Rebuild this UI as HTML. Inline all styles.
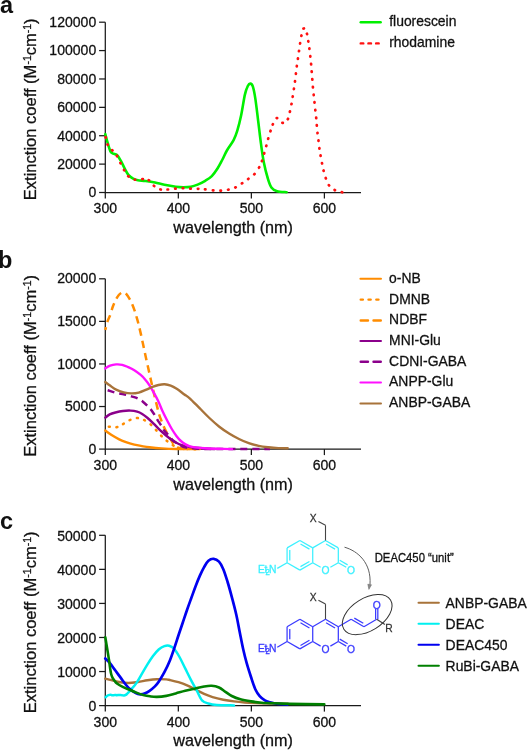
<!DOCTYPE html>
<html><head><meta charset="utf-8"><style>
html,body{margin:0;padding:0;background:#fff;}
svg{display:block;will-change:transform;}
</style></head><body>
<svg width="528" height="750" viewBox="0 0 528 750">
<rect width="528" height="750" fill="#fff"/>
<text transform="translate(0.1,12.5)" font-size="23.5" font-weight="bold" font-family="Liberation Sans, sans-serif" fill="#111">a</text>
<text transform="translate(-2.1,268.2)" font-size="23.5" font-weight="bold" font-family="Liberation Sans, sans-serif" fill="#111">b</text>
<text transform="translate(0.0,528.9)" font-size="23.5" font-weight="bold" font-family="Liberation Sans, sans-serif" fill="#111">c</text>
<path d="M105.3,22.20 V192.5 H361.0" fill="none" stroke="#1a1a1a" stroke-width="1.25"/>
<path d="M99.10,192.50 H105.3" stroke="#1a1a1a" stroke-width="1.25"/>
<text transform="translate(96.20,197.30) scale(1,1.05)" text-anchor="end" font-size="14.05" font-family="Liberation Sans, sans-serif" fill="#111" stroke="#111" stroke-width="0.28">0</text>
<path d="M99.10,164.12 H105.3" stroke="#1a1a1a" stroke-width="1.25"/>
<text transform="translate(96.20,168.92) scale(1,1.05)" text-anchor="end" font-size="14.05" font-family="Liberation Sans, sans-serif" fill="#111" stroke="#111" stroke-width="0.28">20000</text>
<path d="M99.10,135.73 H105.3" stroke="#1a1a1a" stroke-width="1.25"/>
<text transform="translate(96.20,140.53) scale(1,1.05)" text-anchor="end" font-size="14.05" font-family="Liberation Sans, sans-serif" fill="#111" stroke="#111" stroke-width="0.28">40000</text>
<path d="M99.10,107.35 H105.3" stroke="#1a1a1a" stroke-width="1.25"/>
<text transform="translate(96.20,112.15) scale(1,1.05)" text-anchor="end" font-size="14.05" font-family="Liberation Sans, sans-serif" fill="#111" stroke="#111" stroke-width="0.28">60000</text>
<path d="M99.10,78.97 H105.3" stroke="#1a1a1a" stroke-width="1.25"/>
<text transform="translate(96.20,83.77) scale(1,1.05)" text-anchor="end" font-size="14.05" font-family="Liberation Sans, sans-serif" fill="#111" stroke="#111" stroke-width="0.28">80000</text>
<path d="M99.10,50.58 H105.3" stroke="#1a1a1a" stroke-width="1.25"/>
<text transform="translate(96.20,55.38) scale(1,1.05)" text-anchor="end" font-size="14.05" font-family="Liberation Sans, sans-serif" fill="#111" stroke="#111" stroke-width="0.28">100000</text>
<path d="M99.10,22.20 H105.3" stroke="#1a1a1a" stroke-width="1.25"/>
<text transform="translate(96.20,27.00) scale(1,1.05)" text-anchor="end" font-size="14.05" font-family="Liberation Sans, sans-serif" fill="#111" stroke="#111" stroke-width="0.28">120000</text>
<path d="M105.30,192.5 V198.50" stroke="#1a1a1a" stroke-width="1.25"/>
<text transform="translate(105.30,213.40) scale(1,1.05)" text-anchor="middle" font-size="14.05" font-family="Liberation Sans, sans-serif" fill="#111" stroke="#111" stroke-width="0.28">300</text>
<path d="M178.33,192.5 V198.50" stroke="#1a1a1a" stroke-width="1.25"/>
<text transform="translate(178.33,213.40) scale(1,1.05)" text-anchor="middle" font-size="14.05" font-family="Liberation Sans, sans-serif" fill="#111" stroke="#111" stroke-width="0.28">400</text>
<path d="M251.36,192.5 V198.50" stroke="#1a1a1a" stroke-width="1.25"/>
<text transform="translate(251.36,213.40) scale(1,1.05)" text-anchor="middle" font-size="14.05" font-family="Liberation Sans, sans-serif" fill="#111" stroke="#111" stroke-width="0.28">500</text>
<path d="M324.39,192.5 V198.50" stroke="#1a1a1a" stroke-width="1.25"/>
<text transform="translate(324.39,213.40) scale(1,1.05)" text-anchor="middle" font-size="14.05" font-family="Liberation Sans, sans-serif" fill="#111" stroke="#111" stroke-width="0.28">600</text>
<text transform="translate(233.1,233.20) scale(1,1.05)" text-anchor="middle" font-size="16.2" font-family="Liberation Sans, sans-serif" fill="#111" stroke="#111" stroke-width="0.28">wavelength (nm)</text>
<text transform="translate(35.9,200.20) scale(1,1.02) rotate(-90)" font-size="16.2" font-family="Liberation Sans, sans-serif" fill="#111" stroke="#111" stroke-width="0.28">Extinction coeff (M<tspan font-size="10.3" dy="-5.0">-1</tspan><tspan dy="5.0">cm</tspan><tspan font-size="10.3" dy="-5.0">-1</tspan><tspan dy="5.0">)</tspan></text>
<path d="M105.30,134.20 C105.68,135.62 106.75,139.85 107.60,142.70 C108.45,145.55 109.45,149.47 110.40,151.30 C111.35,153.13 112.20,153.08 113.30,153.70 C114.40,154.32 115.75,153.83 117.00,155.00 C118.25,156.17 119.53,158.48 120.80,160.70 C122.07,162.92 123.33,165.93 124.60,168.30 C125.87,170.67 126.98,173.17 128.40,174.90 C129.82,176.63 131.52,177.82 133.10,178.70 C134.68,179.58 135.83,179.82 137.90,180.20 C139.97,180.58 142.65,180.62 145.50,181.00 C148.35,181.38 151.85,181.87 155.00,182.50 C158.15,183.13 160.93,184.10 164.40,184.80 C167.87,185.50 172.65,186.30 175.80,186.70 C178.95,187.10 180.78,187.20 183.30,187.20 C185.82,187.20 188.52,187.13 190.90,186.70 C193.28,186.27 195.22,185.58 197.60,184.60 C199.98,183.62 202.83,182.22 205.20,180.80 C207.57,179.38 209.75,178.15 211.80,176.10 C213.85,174.05 215.77,171.18 217.50,168.50 C219.23,165.82 220.63,163.00 222.20,160.00 C223.77,157.00 225.00,153.82 226.90,150.50 C228.80,147.18 231.87,143.42 233.60,140.10 C235.33,136.78 236.05,134.70 237.30,130.60 C238.55,126.50 239.83,121.50 241.10,115.50 C242.37,109.50 243.78,99.52 244.90,94.60 C246.02,89.68 246.90,87.83 247.80,86.00 C248.70,84.17 249.45,83.50 250.30,83.60 C251.15,83.70 252.07,84.13 252.90,86.60 C253.73,89.07 254.42,92.65 255.30,98.40 C256.18,104.15 257.25,113.52 258.20,121.10 C259.15,128.68 260.05,136.95 261.00,143.90 C261.95,150.85 262.78,157.12 263.90,162.80 C265.02,168.48 266.45,173.90 267.70,178.00 C268.95,182.10 269.83,185.20 271.40,187.40 C272.97,189.60 274.57,190.40 277.10,191.20 C279.63,192.00 285.02,192.03 286.60,192.20" fill="none" stroke="#00f000" stroke-width="2.6" stroke-linecap="round" stroke-linejoin="round"/>
<path d="M105.64,137.16 L105.76,137.64 M107.49,144.38 L107.71,144.82 M112.14,150.11 L112.46,150.49 M116.87,155.79 L117.13,156.21 M120.39,162.98 L120.61,163.42 M124.07,169.99 L124.33,170.41 M128.21,176.23 L128.59,176.57 M134.75,179.65 L135.25,179.75 M142.35,179.09 L142.85,179.11 M148.69,180.07 L149.11,180.33 M153.80,185.74 L154.20,186.06 M160.36,189.44 L160.84,189.56 M167.55,189.52 L168.05,189.48 M175.15,188.62 L175.65,188.58 M182.75,188.20 L183.25,188.20 M190.25,188.59 L190.75,188.61 M197.85,188.79 L198.35,188.81 M204.95,189.28 L205.45,189.32 M212.85,190.28 L213.35,190.32 M220.45,190.61 L220.95,190.59 M228.06,189.75 L228.54,189.65 M235.27,187.51 L235.73,187.29 M241.89,183.44 L242.31,183.16 M248.10,179.05 L248.50,178.75 M254.23,174.38 L254.57,174.02 M258.98,167.72 L259.22,167.28 M261.92,161.14 L262.08,160.66 M264.13,153.54 L264.27,153.06 M266.23,146.04 L266.37,145.56 M268.13,138.84 L268.27,138.36 M270.42,131.24 L270.58,130.76 M272.69,124.62 L272.91,124.18 M276.65,118.14 L277.15,118.06 M282.35,122.78 L282.85,122.82 M287.76,119.21 L288.04,118.79 M289.84,111.84 L289.96,111.36 M291.45,104.25 L291.55,103.75 M292.66,96.85 L292.74,96.35 M293.86,89.15 L293.94,88.65 M294.97,81.65 L295.03,81.15 M295.87,73.95 L295.93,73.45 M296.77,66.45 L296.83,65.95 M297.86,58.95 L297.94,58.45 M298.96,51.25 L299.04,50.75 M300.06,43.65 L300.14,43.15 M301.34,35.94 L301.46,35.46 M303.46,28.58 L303.94,28.42 M306.92,33.66 L307.08,34.14 M308.26,41.15 L308.34,41.65 M309.37,48.45 L309.43,48.95 M310.27,56.15 L310.33,56.65 M311.08,63.85 L311.12,64.35 M311.68,71.45 L311.72,71.95 M312.28,79.15 L312.32,79.65 M312.88,86.85 L312.92,87.35 M313.67,94.55 L313.73,95.05 M314.47,102.15 L314.53,102.65 M315.27,109.85 L315.33,110.35 M316.18,117.55 L316.22,118.05 M316.78,125.15 L316.82,125.65 M317.47,132.75 L317.53,133.25 M318.47,140.45 L318.53,140.95 M319.37,148.15 L319.43,148.65 M320.56,155.45 L320.64,155.95 M321.95,163.05 L322.05,163.55 M323.54,170.46 L323.66,170.94 M325.71,177.97 L325.89,178.43 M328.85,185.10 L329.15,185.50 M334.58,189.98 L335.02,190.22 M341.76,192.13 L342.24,192.27" fill="none" stroke="#ff1010" stroke-width="2.7" stroke-linecap="round"/>
<path d="M360.75,22.30 H380.65" stroke="#00f000" stroke-width="2.5" stroke-linecap="round"/>
<text transform="translate(389.2,26.40) scale(1,1.05)" font-size="13.9" font-family="Liberation Sans, sans-serif" fill="#111" stroke="#111" stroke-width="0.28">fluorescein</text>
<path d="M360.70,43.40 H378.70" stroke="#ff1010" stroke-width="2.4" stroke-linecap="round" stroke-dasharray="2.60 5.10"/>
<text transform="translate(389.2,46.70) scale(1,1.05)" font-size="13.9" font-family="Liberation Sans, sans-serif" fill="#111" stroke="#111" stroke-width="0.28">rhodamine</text>
<path d="M105.3,278.80 V449.1 H361.0" fill="none" stroke="#1a1a1a" stroke-width="1.25"/>
<path d="M99.10,449.10 H105.3" stroke="#1a1a1a" stroke-width="1.25"/>
<text transform="translate(96.20,453.70) scale(1,1.05)" text-anchor="end" font-size="14.05" font-family="Liberation Sans, sans-serif" fill="#111" stroke="#111" stroke-width="0.28">0</text>
<path d="M99.10,406.53 H105.3" stroke="#1a1a1a" stroke-width="1.25"/>
<text transform="translate(96.20,411.13) scale(1,1.05)" text-anchor="end" font-size="14.05" font-family="Liberation Sans, sans-serif" fill="#111" stroke="#111" stroke-width="0.28">5000</text>
<path d="M99.10,363.95 H105.3" stroke="#1a1a1a" stroke-width="1.25"/>
<text transform="translate(96.20,368.55) scale(1,1.05)" text-anchor="end" font-size="14.05" font-family="Liberation Sans, sans-serif" fill="#111" stroke="#111" stroke-width="0.28">10000</text>
<path d="M99.10,321.38 H105.3" stroke="#1a1a1a" stroke-width="1.25"/>
<text transform="translate(96.20,325.98) scale(1,1.05)" text-anchor="end" font-size="14.05" font-family="Liberation Sans, sans-serif" fill="#111" stroke="#111" stroke-width="0.28">15000</text>
<path d="M99.10,278.80 H105.3" stroke="#1a1a1a" stroke-width="1.25"/>
<text transform="translate(96.20,283.40) scale(1,1.05)" text-anchor="end" font-size="14.05" font-family="Liberation Sans, sans-serif" fill="#111" stroke="#111" stroke-width="0.28">20000</text>
<path d="M105.30,449.1 V455.10" stroke="#1a1a1a" stroke-width="1.25"/>
<text transform="translate(105.30,470.00) scale(1,1.05)" text-anchor="middle" font-size="14.05" font-family="Liberation Sans, sans-serif" fill="#111" stroke="#111" stroke-width="0.28">300</text>
<path d="M178.33,449.1 V455.10" stroke="#1a1a1a" stroke-width="1.25"/>
<text transform="translate(178.33,470.00) scale(1,1.05)" text-anchor="middle" font-size="14.05" font-family="Liberation Sans, sans-serif" fill="#111" stroke="#111" stroke-width="0.28">400</text>
<path d="M251.36,449.1 V455.10" stroke="#1a1a1a" stroke-width="1.25"/>
<text transform="translate(251.36,470.00) scale(1,1.05)" text-anchor="middle" font-size="14.05" font-family="Liberation Sans, sans-serif" fill="#111" stroke="#111" stroke-width="0.28">500</text>
<path d="M324.39,449.1 V455.10" stroke="#1a1a1a" stroke-width="1.25"/>
<text transform="translate(324.39,470.00) scale(1,1.05)" text-anchor="middle" font-size="14.05" font-family="Liberation Sans, sans-serif" fill="#111" stroke="#111" stroke-width="0.28">600</text>
<text transform="translate(233.1,489.80) scale(1,1.05)" text-anchor="middle" font-size="16.2" font-family="Liberation Sans, sans-serif" fill="#111" stroke="#111" stroke-width="0.28">wavelength (nm)</text>
<text transform="translate(35.9,456.80) scale(1,1.02) rotate(-90)" font-size="16.2" font-family="Liberation Sans, sans-serif" fill="#111" stroke="#111" stroke-width="0.28">Extinction coeff (M<tspan font-size="10.3" dy="-5.0">-1</tspan><tspan dy="5.0">cm</tspan><tspan font-size="10.3" dy="-5.0">-1</tspan><tspan dy="5.0">)</tspan></text>
<path d="M105.30,430.60 C106.35,431.33 109.28,433.55 111.60,435.00 C113.92,436.45 116.68,438.08 119.20,439.30 C121.72,440.52 124.18,441.42 126.70,442.30 C129.22,443.18 131.77,443.97 134.30,444.60 C136.83,445.23 139.37,445.65 141.90,446.10 C144.43,446.55 146.22,446.92 149.50,447.30 C152.78,447.68 157.07,448.12 161.60,448.40 C166.13,448.68 170.30,448.88 176.70,449.00 C183.10,449.12 196.12,449.08 200.00,449.10" fill="none" stroke="#ff8c00" stroke-width="2.4" stroke-linecap="round" stroke-linejoin="round"/>
<path d="M108.80,426.67 L109.80,426.73 M116.41,427.20 L117.39,427.00 M122.96,424.14 L123.84,423.66 M129.54,420.19 L130.46,419.81 M136.90,418.09 L137.90,418.11 M144.05,419.98 L144.95,420.42 M150.52,424.38 L151.28,425.02 M155.86,429.84 L156.54,430.56 M161.05,435.55 L161.75,436.25 M166.61,440.69 L167.39,441.31 M172.76,445.16 L173.64,445.64 M179.52,447.98 L180.48,448.22 M186.90,448.96 L187.90,449.04 M194.40,449.19 L195.40,449.21" fill="none" stroke="#ff8c00" stroke-width="2.5" stroke-linecap="round"/>
<path d="M105.30,330.00 C105.68,328.53 106.75,323.78 107.60,321.20 C108.45,318.62 109.58,316.78 110.40,314.50 C111.22,312.22 111.83,309.45 112.50,307.50 C113.17,305.55 113.75,304.28 114.40,302.80 C115.05,301.32 115.67,299.90 116.40,298.60 C117.13,297.30 118.00,295.93 118.80,295.00 C119.60,294.07 120.43,293.43 121.20,293.00 C121.97,292.57 122.60,292.30 123.40,292.40 C124.20,292.50 124.90,292.40 126.00,293.60 C127.10,294.80 128.93,297.73 130.00,299.60 C131.07,301.47 131.60,302.87 132.40,304.80 C133.20,306.73 134.08,309.08 134.80,311.20 C135.52,313.32 136.10,315.43 136.70,317.50 C137.30,319.57 137.87,321.53 138.40,323.60 C138.93,325.67 139.40,327.77 139.90,329.90 C140.40,332.03 140.92,334.22 141.40,336.40 C141.88,338.58 142.30,340.65 142.80,343.00 C143.30,345.35 143.85,347.92 144.40,350.50 C144.95,353.08 145.50,355.75 146.10,358.50 C146.70,361.25 147.35,364.08 148.00,367.00 C148.65,369.92 149.33,373.00 150.00,376.00 C150.67,379.00 151.30,381.92 152.00,385.00 C152.70,388.08 153.43,391.25 154.20,394.50 C154.97,397.75 155.75,401.08 156.60,404.50 C157.45,407.92 158.37,411.98 159.30,415.00 C160.23,418.02 161.35,420.43 162.20,422.60 C163.05,424.77 163.55,426.17 164.40,428.00 C165.25,429.83 166.25,431.72 167.30,433.60 C168.35,435.48 169.57,437.47 170.70,439.30 C171.83,441.13 172.55,443.08 174.10,444.60 C175.65,446.12 177.35,447.65 180.00,448.40 C182.65,449.15 188.33,448.98 190.00,449.10" fill="none" stroke="#ff8c00" stroke-width="2.5" stroke-linecap="butt" stroke-linejoin="round" stroke-dasharray="7.5 5.1" stroke-dashoffset="4.5"/>
<path d="M105.30,417.60 C106.03,417.07 108.02,415.25 109.70,414.40 C111.38,413.55 113.20,413.07 115.40,412.50 C117.60,411.93 120.38,411.32 122.90,411.00 C125.42,410.68 128.13,410.50 130.50,410.60 C132.87,410.70 135.15,411.05 137.10,411.60 C139.05,412.15 140.45,412.83 142.20,413.90 C143.95,414.97 145.70,416.38 147.60,418.00 C149.50,419.62 151.83,421.88 153.60,423.60 C155.37,425.32 156.68,426.82 158.20,428.30 C159.72,429.78 161.18,431.13 162.70,432.50 C164.22,433.87 165.78,435.27 167.30,436.50 C168.82,437.73 170.28,438.87 171.80,439.90 C173.32,440.93 174.88,441.88 176.40,442.70 C177.92,443.52 179.38,444.23 180.90,444.80 C182.42,445.37 183.98,445.73 185.50,446.10 C187.02,446.47 188.25,446.72 190.00,447.00 C191.75,447.28 193.50,447.55 196.00,447.80 C198.50,448.05 201.83,448.30 205.00,448.50 C208.17,448.70 213.33,448.92 215.00,449.00" fill="none" stroke="#8b008b" stroke-width="2.4" stroke-linecap="round" stroke-linejoin="round"/>
<path d="M105.30,389.50 C105.72,389.62 106.43,389.77 107.80,390.20 C109.17,390.63 111.53,391.55 113.50,392.10 C115.47,392.65 117.47,393.03 119.60,393.50 C121.73,393.97 124.32,394.42 126.30,394.90 C128.28,395.38 129.62,395.83 131.50,396.40 C133.38,396.97 135.75,397.47 137.60,398.30 C139.45,399.13 140.87,400.05 142.60,401.40 C144.33,402.75 146.50,404.88 148.00,406.40 C149.50,407.92 150.38,408.90 151.60,410.50 C152.82,412.10 154.20,414.23 155.30,416.00 C156.40,417.77 156.97,419.20 158.20,421.10 C159.43,423.00 161.67,425.78 162.70,427.40 C163.73,429.02 163.60,429.67 164.40,430.80 C165.20,431.93 166.55,433.17 167.50,434.20 C168.45,435.23 169.18,435.95 170.10,437.00 C171.02,438.05 171.93,439.50 173.00,440.50 C174.07,441.50 175.37,442.25 176.50,443.00 C177.63,443.75 178.38,444.28 179.80,445.00 C181.22,445.72 182.47,446.72 185.00,447.30 C187.53,447.88 190.83,448.22 195.00,448.50 C199.17,448.78 202.50,448.90 210.00,449.00 C217.50,449.10 230.00,449.08 240.00,449.10 C250.00,449.12 265.00,449.10 270.00,449.10" fill="none" stroke="#8b008b" stroke-width="2.5" stroke-linecap="butt" stroke-linejoin="round" stroke-dasharray="7 5" stroke-dashoffset="9.5"/>
<path d="M105.30,368.40 C106.10,367.93 108.30,366.27 110.10,365.60 C111.90,364.93 114.08,364.53 116.10,364.40 C118.12,364.27 120.18,364.35 122.20,364.80 C124.22,365.25 126.18,366.20 128.20,367.10 C130.22,368.00 132.27,368.93 134.30,370.20 C136.33,371.47 138.63,373.20 140.40,374.70 C142.17,376.20 143.38,377.43 144.90,379.20 C146.42,380.97 147.95,382.93 149.50,385.30 C151.05,387.67 152.73,390.75 154.20,393.40 C155.67,396.05 156.88,398.18 158.30,401.20 C159.72,404.22 161.20,408.23 162.70,411.50 C164.20,414.77 165.78,417.88 167.30,420.80 C168.82,423.72 170.28,426.48 171.80,429.00 C173.32,431.52 174.88,433.90 176.40,435.90 C177.92,437.90 179.38,439.58 180.90,441.00 C182.42,442.42 183.98,443.50 185.50,444.40 C187.02,445.30 188.42,445.90 190.00,446.40 C191.58,446.90 192.50,447.10 195.00,447.40 C197.50,447.70 200.83,447.97 205.00,448.20 C209.17,448.43 215.50,448.65 220.00,448.80 C224.50,448.95 230.00,449.05 232.00,449.10" fill="none" stroke="#ff10ff" stroke-width="2.4" stroke-linecap="round" stroke-linejoin="round"/>
<path d="M105.30,382.00 C106.10,382.60 108.30,384.33 110.10,385.60 C111.90,386.87 113.83,388.48 116.10,389.60 C118.37,390.72 121.17,391.67 123.70,392.30 C126.23,392.93 128.78,393.35 131.30,393.40 C133.82,393.45 136.28,393.23 138.80,392.60 C141.32,391.97 144.12,390.55 146.40,389.60 C148.68,388.65 150.48,387.67 152.50,386.90 C154.52,386.13 156.48,385.43 158.50,385.00 C160.52,384.57 162.57,384.20 164.60,384.30 C166.63,384.40 168.68,384.85 170.70,385.60 C172.72,386.35 174.48,387.37 176.70,388.80 C178.92,390.23 181.83,392.62 184.00,394.20 C186.17,395.78 187.10,395.97 189.70,398.30 C192.30,400.63 196.32,404.92 199.60,408.20 C202.88,411.48 206.12,414.92 209.40,418.00 C212.68,421.08 216.02,424.12 219.30,426.70 C222.58,429.28 225.82,431.45 229.10,433.50 C232.38,435.55 235.72,437.38 239.00,439.00 C242.28,440.62 245.52,442.05 248.80,443.20 C252.08,444.35 255.42,445.22 258.70,445.90 C261.98,446.58 265.22,446.93 268.50,447.30 C271.78,447.67 275.20,447.93 278.40,448.10 C281.60,448.27 286.15,448.27 287.70,448.30" fill="none" stroke="#a8733a" stroke-width="2.4" stroke-linecap="round" stroke-linejoin="round"/>
<path d="M360.45,278.80 H380.95" stroke="#ff8c00" stroke-width="2.1" stroke-linecap="round"/>
<text transform="translate(389.1,282.70) scale(1,1.05)" font-size="13.9" font-family="Liberation Sans, sans-serif" fill="#111" stroke="#111" stroke-width="0.28">o-NB</text>
<path d="M360.70,299.60 H378.50" stroke="#ff8c00" stroke-width="2.4" stroke-linecap="round" stroke-dasharray="2.20 5.60"/>
<text transform="translate(389.1,303.50) scale(1,1.05)" font-size="13.9" font-family="Liberation Sans, sans-serif" fill="#111" stroke="#111" stroke-width="0.28">DMNB</text>
<path d="M360.70,320.50 H380.80" stroke="#ff8c00" stroke-width="2.4" stroke-linecap="round" stroke-dasharray="7.30 5.50"/>
<text transform="translate(389.1,324.40) scale(1,1.05)" font-size="13.9" font-family="Liberation Sans, sans-serif" fill="#111" stroke="#111" stroke-width="0.28">NDBF</text>
<path d="M360.45,341.00 H380.95" stroke="#8b008b" stroke-width="2.1" stroke-linecap="round"/>
<text transform="translate(389.1,344.90) scale(1,1.05)" font-size="13.9" font-family="Liberation Sans, sans-serif" fill="#111" stroke="#111" stroke-width="0.28">MNI-Glu</text>
<path d="M360.70,361.80 H380.80" stroke="#8b008b" stroke-width="2.4" stroke-linecap="round" stroke-dasharray="7.30 5.50"/>
<text transform="translate(389.1,365.70) scale(1,1.05)" font-size="13.9" font-family="Liberation Sans, sans-serif" fill="#111" stroke="#111" stroke-width="0.28">CDNI-GABA</text>
<path d="M360.45,382.50 H380.95" stroke="#ff10ff" stroke-width="2.1" stroke-linecap="round"/>
<text transform="translate(389.1,386.40) scale(1,1.05)" font-size="13.9" font-family="Liberation Sans, sans-serif" fill="#111" stroke="#111" stroke-width="0.28">ANPP-Glu</text>
<path d="M360.45,403.50 H380.95" stroke="#a8733a" stroke-width="2.1" stroke-linecap="round"/>
<text transform="translate(389.1,407.40) scale(1,1.05)" font-size="13.9" font-family="Liberation Sans, sans-serif" fill="#111" stroke="#111" stroke-width="0.28">ANBP-GABA</text>
<path d="M105.3,535.30 V705.6 H361.0" fill="none" stroke="#1a1a1a" stroke-width="1.25"/>
<path d="M99.10,705.60 H105.3" stroke="#1a1a1a" stroke-width="1.25"/>
<text transform="translate(96.20,710.80) scale(1,1.05)" text-anchor="end" font-size="14.05" font-family="Liberation Sans, sans-serif" fill="#111" stroke="#111" stroke-width="0.28">0</text>
<path d="M99.10,671.54 H105.3" stroke="#1a1a1a" stroke-width="1.25"/>
<text transform="translate(96.20,676.74) scale(1,1.05)" text-anchor="end" font-size="14.05" font-family="Liberation Sans, sans-serif" fill="#111" stroke="#111" stroke-width="0.28">10000</text>
<path d="M99.10,637.48 H105.3" stroke="#1a1a1a" stroke-width="1.25"/>
<text transform="translate(96.20,642.68) scale(1,1.05)" text-anchor="end" font-size="14.05" font-family="Liberation Sans, sans-serif" fill="#111" stroke="#111" stroke-width="0.28">20000</text>
<path d="M99.10,603.42 H105.3" stroke="#1a1a1a" stroke-width="1.25"/>
<text transform="translate(96.20,608.62) scale(1,1.05)" text-anchor="end" font-size="14.05" font-family="Liberation Sans, sans-serif" fill="#111" stroke="#111" stroke-width="0.28">30000</text>
<path d="M99.10,569.36 H105.3" stroke="#1a1a1a" stroke-width="1.25"/>
<text transform="translate(96.20,574.56) scale(1,1.05)" text-anchor="end" font-size="14.05" font-family="Liberation Sans, sans-serif" fill="#111" stroke="#111" stroke-width="0.28">40000</text>
<path d="M99.10,535.30 H105.3" stroke="#1a1a1a" stroke-width="1.25"/>
<text transform="translate(96.20,540.50) scale(1,1.05)" text-anchor="end" font-size="14.05" font-family="Liberation Sans, sans-serif" fill="#111" stroke="#111" stroke-width="0.28">50000</text>
<path d="M105.30,705.6 V711.60" stroke="#1a1a1a" stroke-width="1.25"/>
<text transform="translate(105.30,726.50) scale(1,1.05)" text-anchor="middle" font-size="14.05" font-family="Liberation Sans, sans-serif" fill="#111" stroke="#111" stroke-width="0.28">300</text>
<path d="M178.33,705.6 V711.60" stroke="#1a1a1a" stroke-width="1.25"/>
<text transform="translate(178.33,726.50) scale(1,1.05)" text-anchor="middle" font-size="14.05" font-family="Liberation Sans, sans-serif" fill="#111" stroke="#111" stroke-width="0.28">400</text>
<path d="M251.36,705.6 V711.60" stroke="#1a1a1a" stroke-width="1.25"/>
<text transform="translate(251.36,726.50) scale(1,1.05)" text-anchor="middle" font-size="14.05" font-family="Liberation Sans, sans-serif" fill="#111" stroke="#111" stroke-width="0.28">500</text>
<path d="M324.39,705.6 V711.60" stroke="#1a1a1a" stroke-width="1.25"/>
<text transform="translate(324.39,726.50) scale(1,1.05)" text-anchor="middle" font-size="14.05" font-family="Liberation Sans, sans-serif" fill="#111" stroke="#111" stroke-width="0.28">600</text>
<text transform="translate(233.1,746.30) scale(1,1.05)" text-anchor="middle" font-size="16.2" font-family="Liberation Sans, sans-serif" fill="#111" stroke="#111" stroke-width="0.28">wavelength (nm)</text>
<text transform="translate(35.9,713.30) scale(1,1.02) rotate(-90)" font-size="16.2" font-family="Liberation Sans, sans-serif" fill="#111" stroke="#111" stroke-width="0.28">Extinction coeff (M<tspan font-size="10.3" dy="-5.0">-1</tspan><tspan dy="5.0">cm</tspan><tspan font-size="10.3" dy="-5.0">-1</tspan><tspan dy="5.0">)</tspan></text>
<path d="M105.30,678.60 C106.32,678.87 109.13,679.63 111.40,680.20 C113.67,680.77 116.07,681.53 118.90,682.00 C121.73,682.47 125.23,683.00 128.40,683.00 C131.57,683.00 134.75,682.45 137.90,682.00 C141.05,681.55 144.15,680.77 147.30,680.30 C150.45,679.83 153.63,679.35 156.80,679.20 C159.97,679.05 164.10,679.27 166.30,679.40 C168.50,679.53 167.97,679.53 170.00,680.00 C172.03,680.47 175.65,681.30 178.50,682.20 C181.35,683.10 184.25,684.15 187.10,685.40 C189.95,686.65 192.77,688.28 195.60,689.70 C198.43,691.12 201.27,692.67 204.10,693.90 C206.93,695.13 209.40,696.13 212.60,697.10 C215.80,698.07 219.73,698.98 223.30,699.70 C226.87,700.42 230.45,700.93 234.00,701.40 C237.55,701.87 241.05,702.22 244.60,702.50 C248.15,702.78 251.07,702.93 255.30,703.10 C259.53,703.27 264.58,703.38 270.00,703.50 C275.42,703.62 284.83,703.75 287.80,703.80" fill="none" stroke="#a8733a" stroke-width="2.4" stroke-linecap="round" stroke-linejoin="round"/>
<path d="M105.60,697.20 C105.83,697.00 106.52,696.33 107.00,696.00 C107.48,695.67 107.97,695.42 108.50,695.20 C109.03,694.98 109.65,694.70 110.20,694.70 C110.75,694.70 111.27,695.10 111.80,695.20 C112.33,695.30 112.87,695.35 113.40,695.30 C113.93,695.25 114.43,694.92 115.00,694.90 C115.57,694.88 116.20,695.18 116.80,695.20 C117.40,695.22 118.00,695.05 118.60,695.00 C119.20,694.95 119.80,694.85 120.40,694.90 C121.00,694.95 121.60,695.20 122.20,695.30 C122.80,695.40 123.40,695.57 124.00,695.50 C124.60,695.43 125.25,695.22 125.80,694.90 C126.35,694.58 126.68,694.18 127.30,693.60 C127.92,693.02 128.80,692.18 129.50,691.40 C130.20,690.62 130.42,690.20 131.50,688.90 C132.58,687.60 134.30,686.07 136.00,683.60 C137.70,681.13 139.82,677.27 141.70,674.10 C143.58,670.93 145.42,667.60 147.30,664.60 C149.18,661.60 151.10,658.62 153.00,656.10 C154.90,653.58 156.80,651.17 158.70,649.50 C160.60,647.83 162.67,646.73 164.40,646.10 C166.13,645.47 167.52,645.30 169.10,645.70 C170.68,646.10 172.17,646.62 173.90,648.50 C175.63,650.38 177.62,653.68 179.50,657.00 C181.38,660.32 183.30,664.60 185.20,668.40 C187.10,672.20 189.00,676.17 190.90,679.80 C192.80,683.43 194.75,686.78 196.60,690.20 C198.45,693.62 200.03,698.08 202.00,700.30 C203.97,702.52 205.92,702.72 208.40,703.50 C210.88,704.28 212.63,704.68 216.90,705.00 C221.17,705.32 231.15,705.33 234.00,705.40" fill="none" stroke="#00f0f0" stroke-width="2.5" stroke-linecap="round" stroke-linejoin="round"/>
<path d="M105.30,658.50 C106.00,659.20 107.85,660.73 109.50,662.70 C111.15,664.67 113.32,667.77 115.20,670.30 C117.08,672.83 118.92,675.37 120.80,677.90 C122.68,680.43 124.88,683.55 126.50,685.50 C128.12,687.45 129.23,688.50 130.50,689.60 C131.77,690.70 132.87,691.37 134.10,692.10 C135.33,692.83 136.80,693.62 137.90,694.00 C139.00,694.38 139.60,694.47 140.70,694.40 C141.80,694.33 143.08,694.15 144.50,693.60 C145.92,693.05 147.47,692.30 149.20,691.10 C150.93,689.90 153.32,687.97 154.90,686.40 C156.48,684.83 157.12,684.07 158.70,681.70 C160.28,679.33 162.52,675.78 164.40,672.20 C166.28,668.62 168.35,664.22 170.00,660.20 C171.65,656.18 172.88,652.25 174.30,648.10 C175.72,643.95 177.08,639.57 178.50,635.30 C179.92,631.03 181.37,626.77 182.80,622.50 C184.23,618.23 185.68,613.78 187.10,609.70 C188.52,605.62 189.88,601.92 191.30,598.00 C192.72,594.08 194.17,589.93 195.60,586.20 C197.03,582.47 198.48,578.78 199.90,575.60 C201.32,572.42 202.68,569.58 204.10,567.10 C205.52,564.62 206.80,562.08 208.40,560.70 C210.00,559.32 211.93,558.63 213.70,558.80 C215.47,558.97 217.40,559.97 219.00,561.70 C220.60,563.43 221.87,565.82 223.30,569.20 C224.73,572.58 226.17,577.32 227.60,582.00 C229.03,586.68 230.45,591.85 231.90,597.30 C233.35,602.75 235.00,608.92 236.30,614.70 C237.60,620.48 238.55,626.23 239.70,632.00 C240.85,637.77 242.03,644.10 243.20,649.30 C244.37,654.50 245.40,658.58 246.70,663.20 C248.00,667.82 249.57,672.67 251.00,677.00 C252.43,681.33 253.85,686.02 255.30,689.20 C256.75,692.38 258.10,694.23 259.70,696.10 C261.30,697.97 263.17,699.38 264.90,700.40 C266.63,701.42 267.92,701.63 270.10,702.20 C272.28,702.77 275.13,703.40 278.00,703.80 C280.87,704.20 285.75,704.47 287.30,704.60" fill="none" stroke="#0000f0" stroke-width="2.7" stroke-linecap="round" stroke-linejoin="round"/>
<path d="M105.30,637.20 C105.48,638.33 106.05,641.87 106.40,644.00 C106.75,646.13 107.10,648.17 107.40,650.00 C107.70,651.83 107.93,653.33 108.20,655.00 C108.47,656.67 108.75,658.33 109.00,660.00 C109.25,661.67 109.47,663.33 109.70,665.00 C109.93,666.67 110.13,668.42 110.40,670.00 C110.67,671.58 110.93,673.20 111.30,674.50 C111.67,675.80 112.12,676.83 112.60,677.80 C113.08,678.77 113.47,679.35 114.20,680.30 C114.93,681.25 115.58,682.42 117.00,683.50 C118.42,684.58 120.62,685.75 122.70,686.80 C124.78,687.85 127.22,688.83 129.50,689.80 C131.78,690.77 134.12,691.75 136.40,692.60 C138.68,693.45 140.93,694.28 143.20,694.90 C145.47,695.52 147.73,695.97 150.00,696.30 C152.27,696.63 154.08,696.97 156.80,696.90 C159.52,696.83 163.13,696.48 166.30,695.90 C169.47,695.32 172.65,694.25 175.80,693.40 C178.95,692.55 182.05,691.58 185.20,690.80 C188.35,690.02 191.55,689.42 194.70,688.70 C197.85,687.98 201.28,686.98 204.10,686.50 C206.92,686.02 209.12,685.63 211.60,685.80 C214.08,685.97 216.70,686.50 219.00,687.50 C221.30,688.50 223.27,690.38 225.40,691.80 C227.53,693.22 229.30,694.75 231.80,696.00 C234.30,697.25 237.20,698.40 240.40,699.30 C243.60,700.20 247.45,700.83 251.00,701.40 C254.55,701.97 258.53,702.42 261.70,702.70 C264.87,702.98 265.28,702.90 270.00,703.10 C274.72,703.30 280.95,703.68 290.00,703.90 C299.05,704.12 318.58,704.32 324.30,704.40" fill="none" stroke="#008000" stroke-width="2.6" stroke-linecap="round" stroke-linejoin="round"/>
<path d="M418.55,602.70 H438.85" stroke="#a8733a" stroke-width="2.1" stroke-linecap="round"/>
<text transform="translate(445.6,607.60) scale(1,1.05)" font-size="13.9" font-family="Liberation Sans, sans-serif" fill="#111" stroke="#111" stroke-width="0.28">ANBP-GABA</text>
<path d="M418.55,623.80 H438.85" stroke="#00f0f0" stroke-width="2.1" stroke-linecap="round"/>
<text transform="translate(445.6,628.70) scale(1,1.05)" font-size="13.9" font-family="Liberation Sans, sans-serif" fill="#111" stroke="#111" stroke-width="0.28">DEAC</text>
<path d="M418.55,644.80 H438.85" stroke="#0000f0" stroke-width="2.1" stroke-linecap="round"/>
<text transform="translate(445.6,649.80) scale(1,1.05)" font-size="13.9" font-family="Liberation Sans, sans-serif" fill="#111" stroke="#111" stroke-width="0.28">DEAC450</text>
<path d="M418.55,665.80 H438.85" stroke="#008000" stroke-width="2.1" stroke-linecap="round"/>
<text transform="translate(445.6,670.80) scale(1,1.05)" font-size="13.9" font-family="Liberation Sans, sans-serif" fill="#111" stroke="#111" stroke-width="0.28">RuBi-GABA</text>
<line x1="299.90" y1="540.50" x2="312.72" y2="547.90" stroke="#3cf0ff" stroke-width="1.25"/>
<line x1="312.72" y1="547.90" x2="312.72" y2="562.70" stroke="#3cf0ff" stroke-width="1.25"/>
<line x1="312.72" y1="562.70" x2="299.90" y2="570.10" stroke="#3cf0ff" stroke-width="1.25"/>
<line x1="299.90" y1="570.10" x2="287.08" y2="562.70" stroke="#3cf0ff" stroke-width="1.25"/>
<line x1="287.08" y1="562.70" x2="287.08" y2="547.90" stroke="#3cf0ff" stroke-width="1.25"/>
<line x1="287.08" y1="547.90" x2="299.90" y2="540.50" stroke="#3cf0ff" stroke-width="1.25"/>
<line x1="300.47" y1="543.95" x2="309.44" y2="549.13" stroke="#3cf0ff" stroke-width="1.25"/>
<line x1="289.78" y1="560.48" x2="289.78" y2="550.12" stroke="#3cf0ff" stroke-width="1.25"/>
<line x1="309.44" y1="561.47" x2="300.47" y2="566.65" stroke="#3cf0ff" stroke-width="1.25"/>
<line x1="325.50" y1="540.50" x2="338.32" y2="547.90" stroke="#3cf0ff" stroke-width="1.25"/>
<line x1="338.32" y1="547.90" x2="338.32" y2="562.70" stroke="#3cf0ff" stroke-width="1.25"/>
<line x1="338.32" y1="562.70" x2="330.37" y2="567.29" stroke="#3cf0ff" stroke-width="1.25"/>
<line x1="312.68" y1="562.70" x2="320.63" y2="567.29" stroke="#3cf0ff" stroke-width="1.25"/>
<line x1="312.68" y1="547.90" x2="325.50" y2="540.50" stroke="#3cf0ff" stroke-width="1.25"/>
<line x1="326.07" y1="543.95" x2="335.04" y2="549.13" stroke="#3cf0ff" stroke-width="1.25"/>
<text transform="translate(325.50,573.80) scale(1,1.05)" text-anchor="middle" font-size="10.3" font-family="Liberation Sans, sans-serif" fill="#3cf0ff" stroke="#3cf0ff" stroke-width="0.3">O</text>
<line x1="338.32" y1="562.70" x2="346.25" y2="567.29" stroke="#3cf0ff" stroke-width="1.25"/>
<line x1="339.72" y1="560.30" x2="347.65" y2="564.89" stroke="#3cf0ff" stroke-width="1.25"/>
<text transform="translate(351.12,573.80) scale(1,1.05)" text-anchor="middle" font-size="10.3" font-family="Liberation Sans, sans-serif" fill="#3cf0ff" stroke="#3cf0ff" stroke-width="0.3">O</text>
<line x1="287.08" y1="562.70" x2="277.28" y2="568.40" stroke="#3cf0ff" stroke-width="1.25"/>
<text transform="translate(276.08,573.30) scale(1,1.05)" text-anchor="end" font-size="10.3" font-family="Liberation Sans, sans-serif" fill="#3cf0ff" stroke="#3cf0ff" stroke-width="0.3" letter-spacing="-0.3">Et<tspan font-size="7.8" dy="2.0" dx="-1.6">2</tspan><tspan dy="-2.0" dx="-0.6">N</tspan></text>
<line x1="325.50" y1="540.50" x2="325.50" y2="525.30" stroke="#444" stroke-width="1.1"/>
<line x1="325.50" y1="525.30" x2="318.40" y2="521.40" stroke="#444" stroke-width="1.1"/>
<text transform="translate(313.10,522.30) scale(1,1.05)" text-anchor="middle" font-size="10.3" font-family="Liberation Sans, sans-serif" fill="#333" stroke="#333" stroke-width="0.25">X</text>
<line x1="299.90" y1="619.30" x2="312.72" y2="626.70" stroke="#3a3aff" stroke-width="1.25"/>
<line x1="312.72" y1="626.70" x2="312.72" y2="641.50" stroke="#3a3aff" stroke-width="1.25"/>
<line x1="312.72" y1="641.50" x2="299.90" y2="648.90" stroke="#3a3aff" stroke-width="1.25"/>
<line x1="299.90" y1="648.90" x2="287.08" y2="641.50" stroke="#3a3aff" stroke-width="1.25"/>
<line x1="287.08" y1="641.50" x2="287.08" y2="626.70" stroke="#3a3aff" stroke-width="1.25"/>
<line x1="287.08" y1="626.70" x2="299.90" y2="619.30" stroke="#3a3aff" stroke-width="1.25"/>
<line x1="300.47" y1="622.75" x2="309.44" y2="627.93" stroke="#3a3aff" stroke-width="1.25"/>
<line x1="289.78" y1="639.28" x2="289.78" y2="628.92" stroke="#3a3aff" stroke-width="1.25"/>
<line x1="309.44" y1="640.27" x2="300.47" y2="645.45" stroke="#3a3aff" stroke-width="1.25"/>
<line x1="325.50" y1="619.30" x2="338.32" y2="626.70" stroke="#3a3aff" stroke-width="1.25"/>
<line x1="338.32" y1="626.70" x2="338.32" y2="641.50" stroke="#3a3aff" stroke-width="1.25"/>
<line x1="338.32" y1="641.50" x2="330.37" y2="646.09" stroke="#3a3aff" stroke-width="1.25"/>
<line x1="312.68" y1="641.50" x2="320.63" y2="646.09" stroke="#3a3aff" stroke-width="1.25"/>
<line x1="312.68" y1="626.70" x2="325.50" y2="619.30" stroke="#3a3aff" stroke-width="1.25"/>
<line x1="326.07" y1="622.75" x2="335.04" y2="627.93" stroke="#3a3aff" stroke-width="1.25"/>
<text transform="translate(325.50,652.60) scale(1,1.05)" text-anchor="middle" font-size="10.3" font-family="Liberation Sans, sans-serif" fill="#3a3aff" stroke="#3a3aff" stroke-width="0.3">O</text>
<line x1="338.32" y1="641.50" x2="346.25" y2="646.09" stroke="#3a3aff" stroke-width="1.25"/>
<line x1="339.72" y1="639.10" x2="347.65" y2="643.69" stroke="#3a3aff" stroke-width="1.25"/>
<text transform="translate(351.12,652.60) scale(1,1.05)" text-anchor="middle" font-size="10.3" font-family="Liberation Sans, sans-serif" fill="#3a3aff" stroke="#3a3aff" stroke-width="0.3">O</text>
<line x1="287.08" y1="641.50" x2="277.28" y2="647.20" stroke="#3a3aff" stroke-width="1.25"/>
<text transform="translate(276.08,652.10) scale(1,1.05)" text-anchor="end" font-size="10.3" font-family="Liberation Sans, sans-serif" fill="#3a3aff" stroke="#3a3aff" stroke-width="0.3" letter-spacing="-0.3">Et<tspan font-size="7.8" dy="2.0" dx="-1.6">2</tspan><tspan dy="-2.0" dx="-0.6">N</tspan></text>
<line x1="325.50" y1="619.30" x2="325.50" y2="604.10" stroke="#444" stroke-width="1.1"/>
<line x1="325.50" y1="604.10" x2="318.40" y2="600.20" stroke="#444" stroke-width="1.1"/>
<text transform="translate(313.10,601.10) scale(1,1.05)" text-anchor="middle" font-size="10.3" font-family="Liberation Sans, sans-serif" fill="#333" stroke="#333" stroke-width="0.25">X</text>
<line x1="338.32" y1="626.70" x2="351.12" y2="619.30" stroke="#3a3aff" stroke-width="1.25"/>
<line x1="351.12" y1="619.30" x2="363.92" y2="626.70" stroke="#3a3aff" stroke-width="1.25"/>
<line x1="363.92" y1="626.70" x2="376.72" y2="619.30" stroke="#3a3aff" stroke-width="1.25"/>
<line x1="354.34" y1="618.11" x2="363.30" y2="623.29" stroke="#3a3aff" stroke-width="1.25"/>
<line x1="375.62" y1="619.30" x2="375.62" y2="608.70" stroke="#3a3aff" stroke-width="1.25"/>
<line x1="377.82" y1="619.30" x2="377.82" y2="608.70" stroke="#3a3aff" stroke-width="1.25"/>
<text transform="translate(376.72,608.70) scale(1,1.05)" text-anchor="middle" font-size="10.3" font-family="Liberation Sans, sans-serif" fill="#3a3aff" stroke="#3a3aff" stroke-width="0.3">O</text>
<line x1="376.72" y1="619.30" x2="384.92" y2="624.50" stroke="#444" stroke-width="1.25"/>
<text transform="translate(389.02,631.90) scale(1,1.05)" text-anchor="middle" font-size="10.3" font-family="Liberation Sans, sans-serif" fill="#333" stroke="#333" stroke-width="0.25">R</text>
<ellipse cx="367.2" cy="614.6" rx="27.5" ry="16.2" transform="rotate(-32 367.2 614.6)" fill="none" stroke="#333" stroke-width="1.0"/>
<path d="M344.5,547.2 C358,551 371.5,563 370.0,584.5" fill="none" stroke="#555" stroke-width="0.95"/>
<path d="M367.8,584.2 L371.5,584.8 L368.9,589.4 Z" fill="#888" stroke="#666" stroke-width="0.5"/>
<text transform="translate(374.7,561.7) scale(1,1.05)" font-size="11.3" font-family="Liberation Sans, sans-serif" fill="#111" stroke="#111" stroke-width="0.28">DEAC450 “unit”</text>
</svg>
</body></html>
